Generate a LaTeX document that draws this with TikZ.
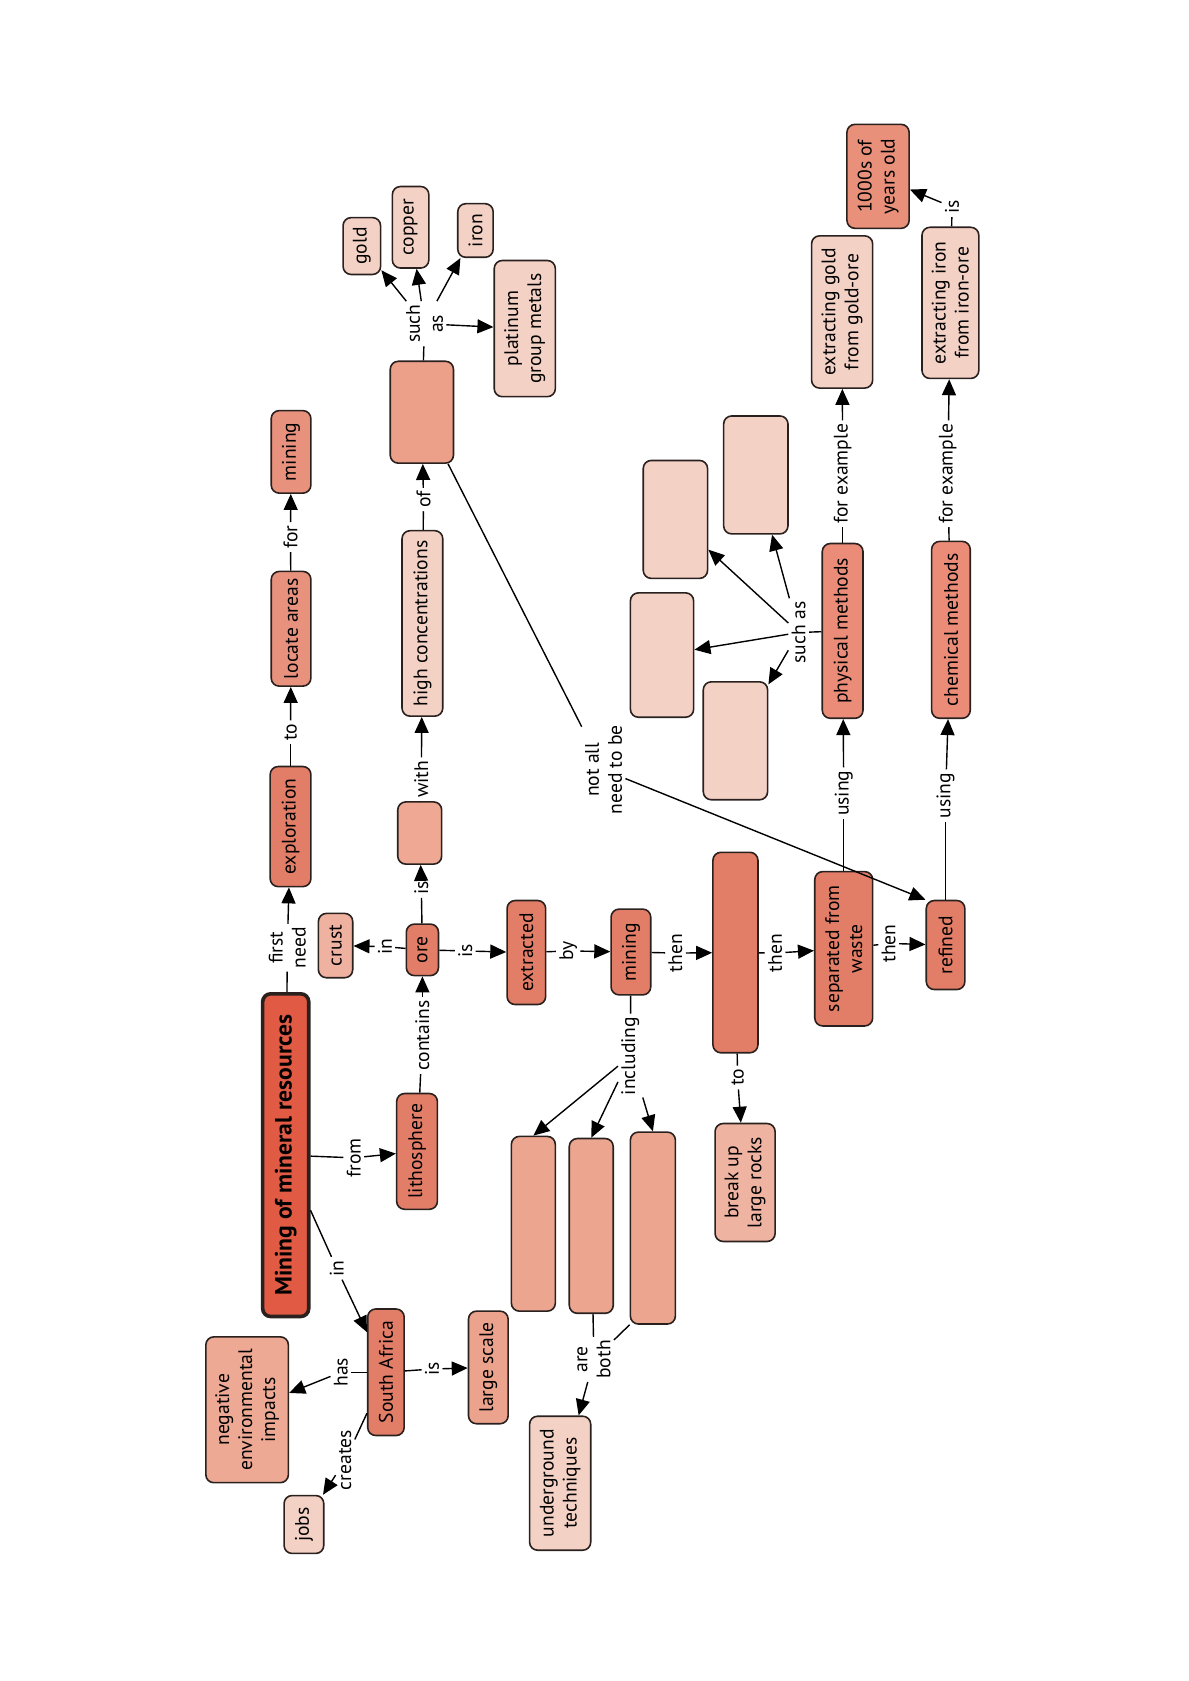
\documentclass[tikz,border=0pt]{standalone}
\usepackage{fontspec}
\setmainfont{PT Sans}
\usetikzlibrary{arrows.meta}
\definecolor{ctitle}{HTML}{E05A44}
\definecolor{cmed}{HTML}{E27D67}
\definecolor{cmeth}{HTML}{EA8C78}
\definecolor{clocate}{HTML}{E8927E}
\definecolor{ccrust}{HTML}{EFB1A0}
\definecolor{csmall}{HTML}{EEA893}
\definecolor{clight}{HTML}{F4D1C5}
\definecolor{cbig}{HTML}{EC9F89}
\definecolor{cbreak}{HTML}{EFB3A1}
\definecolor{cabc}{HTML}{ECA690}
\definecolor{clarge}{HTML}{ECA38E}
\definecolor{cneg}{HTML}{EDA994}
\definecolor{cthousand}{HTML}{E8907A}
\definecolor{cedge}{HTML}{2A211E}
\newdimen\myu
\myu=0.536pt
\newcommand{\fs}{\fontsize{9.8}{11.5}\selectfont}
\newcommand{\fsb}{\fontsize{11.8}{13}\selectfont\bfseries}
\tikzset{
  cbox/.style={draw=cedge, line width=0.8pt, rounded corners=4pt, rotate=90, align=center, inner sep=2pt, font=\fs},
  lab/.style={rotate=90, align=center, inner sep=1.5pt, font=\fs},
  arr/.style={-{Triangle[length=8pt,width=7pt]}, line width=0.7pt},
  ln/.style={line width=0.7pt}
}
\begin{document}
\begin{tikzpicture}[x=0.536pt, y=-0.536pt]
\useasboundingbox (0,0) rectangle (1108.2,1568);
% nodes
\node[cbox, fill=ctitle, line width=1.8pt, font=\fsb, minimum width=301\myu, minimum height=43\myu] (title) at (266.5,1077.5) {Mining of mineral resources};
\node[cbox, fill=cmed, minimum width=112\myu, minimum height=38\myu] (explor) at (271,771) {exploration};
\node[cbox, fill=clocate, minimum width=107\myu, minimum height=37\myu] (locate) at (271.5,586.5) {locate areas};
\node[cbox, fill=clocate, minimum width=77\myu, minimum height=37\myu] (miningA) at (271.5,421.5) {mining};
\node[cbox, fill=ccrust, minimum width=60\myu, minimum height=32\myu] (crust) at (313,882) {crust};
\node[cbox, fill=cmed, minimum width=48\myu, minimum height=30\myu] (ore) at (394,886) {ore};
\node[cbox, fill=cmed, minimum width=108\myu, minimum height=38\myu] (litho) at (389,1074) {lithosphere};
\node[cbox, fill=csmall, minimum width=58\myu, minimum height=41\myu] (smallblank) at (391.5,777) {};
\node[cbox, fill=clight, minimum width=173\myu, minimum height=38\myu] (highconc) at (394,581.5) {high concentrations};
\node[cbox, fill=cbig, minimum width=95\myu, minimum height=59\myu] (bigblank) at (393.5,384.5) {};
\node[cbox, fill=clight, minimum width=53\myu, minimum height=35\myu] (gold) at (337.5,229.5) {gold};
\node[cbox, fill=clight, minimum width=76\myu, minimum height=34\myu] (copper) at (383,212) {copper};
\node[cbox, fill=clight, minimum width=50\myu, minimum height=33\myu] (iron) at (443.5,215) {iron};
\node[cbox, fill=clight, minimum width=127\myu, minimum height=57\myu] (platinum) at (489.5,306.5) {platinum\\group metals};
\node[cbox, fill=cmed, minimum width=97\myu, minimum height=36\myu] (extracted) at (491,888.5) {extracted};
\node[cbox, fill=cmed, minimum width=80\myu, minimum height=37\myu] (miningB) at (588.5,888) {mining};
\node[cbox, fill=cmed, minimum width=187\myu, minimum height=42\myu] (tallblank) at (686,888.5) {};
\node[cbox, fill=cmed, minimum width=144\myu, minimum height=54\myu] (separated) at (787,885) {separated from\\waste};
\node[cbox, fill=cmed, minimum width=83\myu, minimum height=36\myu] (refined) at (882,881.5) {refined};
\node[cbox, fill=cbreak, minimum width=110\myu, minimum height=56\myu] (breakup) at (695,1103) {break up\\large rocks};
\node[cbox, fill=cabc, minimum width=163\myu, minimum height=41\myu] (blankA) at (497.5,1141.5) {};
\node[cbox, fill=cabc, minimum width=163\myu, minimum height=41\myu] (blankB) at (551.5,1143.5) {};
\node[cbox, fill=cabc, minimum width=179\myu, minimum height=42\myu] (blankC) at (609,1145.5) {};
\node[cbox, fill=clight, minimum width=125\myu, minimum height=57\myu] (underground) at (522.5,1383.5) {underground\\techniques};
\node[cbox, fill=cmed, minimum width=118\myu, minimum height=34\myu] (safrica) at (360,1280) {South Africa};
\node[cbox, fill=clarge, minimum width=105\myu, minimum height=37\myu] (largescale) at (455.5,1275.5) {large scale};
\node[cbox, fill=cneg, minimum width=136\myu, minimum height=77\myu] (negative) at (230.5,1315) {negative\\environmental\\impacts};
\node[cbox, fill=clight, minimum width=54\myu, minimum height=37\myu] (jobs) at (283.5,1422) {jobs};
\node[cbox, fill=cmeth, minimum width=163\myu, minimum height=38\myu] (physical) at (786,588.5) {physical methods};
\node[cbox, fill=cmeth, minimum width=165\myu, minimum height=36\myu] (chemical) at (887,587.5) {chemical methods};
\node[cbox, fill=clight, minimum width=110\myu, minimum height=60\myu] (pA) at (705,443) {};
\node[cbox, fill=clight, minimum width=110\myu, minimum height=60\myu] (pB) at (630,484.5) {};
\node[cbox, fill=clight, minimum width=116\myu, minimum height=59\myu] (pC) at (617.5,611) {};
\node[cbox, fill=clight, minimum width=110\myu, minimum height=60\myu] (pD) at (686,691) {};
\node[cbox, fill=clight, minimum width=142\myu, minimum height=57\myu] (extgold) at (785.5,291) {extracting gold\\from gold-ore};
\node[cbox, fill=clight, minimum width=141\myu, minimum height=53\myu] (extiron) at (886.5,282.5) {extracting iron\\from iron-ore};
\node[cbox, fill=cthousand, minimum width=97\myu, minimum height=58\myu] (thousand) at (819,164.5) {1000s of\\years old};
% labels
\node[lab] (lfirst) at (268,884) {first\\need};
\node[lab] (lto) at (271,683) {to};
\node[lab] (lfor) at (271,501) {for};
\node[lab] (lfrom) at (330,1080) {from};
\node[lab] (lin) at (314,1183) {in};
\node[lab] (lcontains) at (394,966) {contains};
\node[lab] (lin2) at (359,883) {in};
\node[lab] (lis) at (393,828) {is};
\node[lab] (lwith) at (393,727) {with};
\node[lab] (lof) at (395,466) {of};
\node[lab] (lsuch) at (396,302) {such\\as};
\node[lab] (lis2) at (434,887) {is};
\node[lab] (lby) at (530,887) {by};
\node[lab] (lthenA) at (630,889) {then};
\node[lab] (lthenB) at (723,889) {then};
\node[lab] (lthenC) at (829,880) {then};
\node[lab] (lto2) at (688,1005) {to};
\node[lab] (lincl) at (588,985) {including};
\node[lab] (lboth) at (554,1268) {are\\both};
\node[lab] (lhas) at (318,1280) {has};
\node[lab] (lcreates) at (322,1362) {creates};
\node[lab] (lis3) at (403,1277) {is};
\node[lab] (lnotall) at (563,718) {not all\\need to be};
\node[lab] (lusingA) at (787,740) {using};
\node[lab] (lforexA) at (786,442) {for example};
\node[lab] (lsuch2) at (745,590) {such as};
\node[lab] (lusingB) at (882,742) {using};
\node[lab] (lforexB) at (884,442) {for example};
\node[lab] (lis4) at (888,193) {is};
% connectors
\draw[ln] (title) -- (lfirst); \draw[arr] (lfirst) -- (explor);
\draw[ln] (explor) -- (lto); \draw[arr] (lto) -- (locate);
\draw[ln] (locate) -- (lfor); \draw[arr] (lfor) -- (miningA);
\draw[ln] (title) -- (lfrom); \draw[arr] (lfrom) -- (litho);
\draw[ln] (title) -- (lin); \draw[arr] (lin) -- (safrica);
\draw[ln] (litho) -- (lcontains); \draw[arr] (lcontains) -- (ore);
\draw[ln] (ore) -- (lin2); \draw[arr] (lin2) -- (crust);
\draw[ln] (ore) -- (lis); \draw[arr] (lis) -- (smallblank);
\draw[ln] (smallblank) -- (lwith); \draw[arr] (lwith) -- (highconc);
\draw[ln] (highconc) -- (lof); \draw[arr] (lof) -- (bigblank);
\draw[ln] (bigblank) -- (lsuch);
\draw[arr] (lsuch) -- (gold);
\draw[arr] (lsuch) -- (copper);
\draw[arr] (lsuch) -- (iron);
\draw[arr] (lsuch) -- (platinum);
\draw[ln] (ore) -- (lis2); \draw[arr] (lis2) -- (extracted);
\draw[ln] (extracted) -- (lby); \draw[arr] (lby) -- (miningB);
\draw[ln] (miningB) -- (lthenA); \draw[arr] (lthenA) -- (tallblank);
\draw[ln] (tallblank) -- (lthenB); \draw[arr] (lthenB) -- (separated);
\draw[ln] (separated) -- (lthenC); \draw[arr] (lthenC) -- (refined);
\draw[ln] (tallblank) -- (lto2); \draw[arr] (lto2) -- (breakup);
\draw[ln] (miningB) -- (lincl);
\draw[arr] (lincl) -- (blankA.east);
\draw[arr] (lincl) -- (blankB.east);
\draw[arr] (lincl) -- (blankC.east);
\draw[ln] (blankB) -- (lboth);
\draw[ln] (blankC.north west) -- (lboth);
\draw[arr] (lboth) -- (underground);
\draw[ln] (safrica) -- (lhas); \draw[arr] (lhas) -- (negative);
\draw[ln] (safrica) -- (lcreates); \draw[arr] (lcreates) -- (jobs);
\draw[ln] (safrica) -- (lis3); \draw[arr] (lis3) -- (largescale);
\draw[ln] (bigblank) -- (lnotall); \draw[arr] (lnotall) -- (refined.north east);
\draw[ln] (separated) -- (lusingA); \draw[arr] (lusingA) -- (physical);
\draw[ln] (physical) -- (lforexA); \draw[arr] (lforexA) -- (extgold);
\draw[ln] (physical) -- (lsuch2);
\draw[arr] (lsuch2) -- (pA);
\draw[arr] (lsuch2) -- (pB);
\draw[arr] (lsuch2) -- (pC);
\draw[arr] (lsuch2) -- (pD);
\draw[ln] (refined) -- (lusingB); \draw[arr] (lusingB) -- (chemical);
\draw[ln] (chemical) -- (lforexB); \draw[arr] (lforexB) -- (extiron);
\draw[ln] (extiron) -- (lis4); \draw[arr] (lis4) -- (thousand);
\end{tikzpicture}
\end{document}
